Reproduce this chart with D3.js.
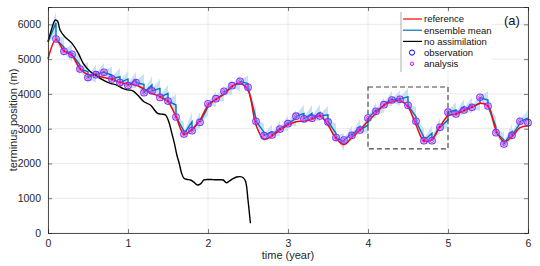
<!DOCTYPE html>
<html>
<head>
<meta charset="utf-8">
<script src="https://cdn.jsdelivr.net/npm/d3@7"></script>
<style>
  body { margin: 0; background: #fff; }
  svg { font-family: "Liberation Sans", Arial, sans-serif; }
</style>
</head>
<body>
<div id="chart"></div>
<script>
// analysis / observation times (year)
const obsTimes = d3.range(1, 61).map(i => i / 10);

const xTicks = [0, 1, 2, 3, 4, 5, 6];
const yTicks = [0, 1000, 2000, 3000, 4000, 5000, 6000];

// reference (true) terminus position, every 0.1 year from t = 0
const refTimes = d3.range(0, 61).map(i => i / 10);
const refVals = [
  5005, 5560, 5240, 5100, 4730, 4550, 4530, 4470, 4420, 4330,
  4285, 4255, 4140, 4015, 3920, 3775, 3345, 2840, 2980, 3250,
  3660, 3845, 3990, 4210, 4310, 4112, 3105, 2690, 2790, 2962,
  3105, 3200, 3220, 3270, 3373, 3105, 2723, 2540, 2752, 2962,
  3220, 3442, 3680, 3775, 3805, 3632, 3105, 2645, 2695, 3057,
  3370, 3422, 3517, 3615, 3730, 3652, 2962, 2625, 2770, 3028,
  3085
];

// observations at t = 0.1 ... 6.0
const obsVals = [
  5580, 5225, 5140, 4717, 4470, 4555, 4620, 4430, 4325, 4240,
  4325, 4035, 4085, 3900, 3795, 3336, 2847, 2942, 3183, 3715,
  3863, 4075, 4237, 4365, 4190, 3212, 2800, 2818, 2990, 3145,
  3360, 3280, 3303, 3365, 3196, 2745, 2675, 2810, 2962, 3305,
  3500, 3690, 3825, 3845, 3672, 3212, 2655, 2655, 3040, 3475,
  3422, 3537, 3615, 3902, 3652, 2885, 2560, 2810, 3212, 3172
];

// ensemble mean after analysis
const analysisVals = [
  5570, 5230, 5135, 4720, 4475, 4555, 4615, 4435, 4325, 4245,
  4320, 4040, 4085, 3905, 3795, 3340, 2850, 2945, 3185, 3710,
  3860, 4070, 4235, 4360, 4190, 3215, 2805, 2820, 2990, 3145,
  3355, 3280, 3300, 3365, 3200, 2745, 2675, 2810, 2965, 3300,
  3500, 3690, 3820, 3845, 3670, 3215, 2660, 2655, 3040, 3470,
  3425, 3535, 3615, 3895, 3650, 2890, 2565, 2810, 3210, 3175
];

// ensemble mean forecast just before each analysis
const ensStart = 5500;
const forecastVals = [
  6050, 5350, 5170, 4830, 4640, 4590, 4640, 4545, 4495, 4430,
  4400, 4277, 4257, 4160, 4017, 3680, 2930, 3200, 3250, 3630,
  3850, 4000, 4180, 4300, 4300, 3300, 2900, 2910, 3020, 3160,
  3300, 3440, 3440, 3460, 3400, 2867, 2620, 2867, 3057, 3105,
  3537, 3680, 3873, 3870, 3920, 3345, 2752, 2867, 3105, 3250,
  3537, 3632, 3680, 3730, 3825, 3057, 2675, 2913, 3155, 3300
];

// ensemble spread (half width) just before each analysis, and after it
const forecastSpread = [
  330, 280, 260, 300, 280, 260, 250, 240, 250, 240,
  240, 300, 250, 280, 250, 300, 250, 280, 230, 250,
  220, 220, 220, 220, 240, 280, 250, 220, 220, 220,
  230, 240, 240, 240, 250, 280, 250, 220, 220, 230,
  220, 220, 220, 220, 250, 280, 250, 230, 220, 230,
  220, 220, 220, 220, 250, 280, 240, 220, 220, 220
];
const analysisSpread = 50;

// model run without assimilation
const noAssimTimes = [
  0, 0.05, 0.09, 0.12, 0.15, 0.21, 0.3, 0.38, 0.44, 0.53,
  0.65, 0.78, 0.86, 0.94, 1.0, 1.06, 1.12, 1.2, 1.28, 1.37,
  1.42, 1.47, 1.51, 1.55, 1.58, 1.61, 1.64, 1.67, 1.7, 1.74,
  1.78, 1.82, 1.87, 1.91, 1.95, 2.0, 2.06, 2.12, 2.19, 2.23,
  2.27, 2.32, 2.36, 2.4, 2.44, 2.47, 2.5, 2.53
];
const noAssimVals = [
  5500, 5900, 6125, 6090, 5840, 5645, 5455, 5165, 4880, 4640,
  4450, 4305, 4255, 4150, 4115, 4090, 3970, 3775, 3680, 3440,
  3420, 3394, 3200, 2850, 2580, 2250, 2005, 1720, 1573, 1540,
  1525, 1470, 1380, 1420, 1525, 1540, 1535, 1530, 1525, 1447,
  1500, 1573, 1610, 1620, 1590, 1480, 950, 280
];

const legendItems = [
  { label: 'reference', type: 'line', color: '#ff0000' },
  { label: 'ensemble mean', type: 'line', color: '#0072bd' },
  { label: 'no assimilation', type: 'line', color: '#000000' },
  { label: 'observation', type: 'obs', color: '#0000ff' },
  { label: 'analysis', type: 'ana', color: '#ff00ff' }
];

const W = 540, H = 266;
const margin = { top: 7, right: 12, bottom: 33, left: 48 };
const width = W - margin.left - margin.right;
const height = H - margin.top - margin.bottom;

const svg = d3.select('#chart')
  .append('svg')
  .attr('width', W)
  .attr('height', H);

const g = svg.append('g')
  .attr('transform', `translate(${margin.left},${margin.top})`);

const x = d3.scaleLinear().domain([0, 6]).range([0, width]);
const y = d3.scaleLinear().domain([0, 6500]).range([height, 0]);

// grid
g.append('g')
  .selectAll('line')
  .data(xTicks)
  .enter()
  .append('line')
  .attr('x1', d => x(d)).attr('x2', d => x(d))
  .attr('y1', 0).attr('y2', height)
  .attr('stroke', '#e3e3e3').attr('stroke-width', 0.8);

g.append('g')
  .selectAll('line')
  .data(yTicks)
  .enter()
  .append('line')
  .attr('x1', 0).attr('x2', width)
  .attr('y1', d => y(d)).attr('y2', d => y(d))
  .attr('stroke', '#e3e3e3').attr('stroke-width', 0.8);

// ensemble mean path: analysis -> forecast -> jump to analysis
let ensPts = [{ t: 0, v: ensStart, s: analysisSpread }];
obsTimes.forEach((t, i) => {
  ensPts.push({ t: t, v: forecastVals[i], s: forecastSpread[i] });
  if (i < obsTimes.length - 1) {
    ensPts.push({ t: t, v: analysisVals[i], s: analysisSpread });
  }
});

const band = d3.area()
  .x(d => x(d.t))
  .y0(d => y(d.v - d.s))
  .y1(d => y(d.v + d.s));

g.append('path')
  .datum(ensPts)
  .attr('d', band)
  .attr('fill', '#c2def2')
  .attr('fill-opacity', 0.9);

const ensLine = d3.line()
  .x(d => x(d.t))
  .y(d => y(d.v));

g.append('path')
  .datum(ensPts)
  .attr('d', ensLine)
  .attr('fill', 'none')
  .attr('stroke', '#0072bd')
  .attr('stroke-width', 1.4);

// reference
const refLine = d3.line()
  .x((d, i) => x(refTimes[i]))
  .y(d => y(d))
  .curve(d3.curveCatmullRom.alpha(0.5));

g.append('path')
  .datum(refVals)
  .attr('d', refLine)
  .attr('fill', 'none')
  .attr('stroke', '#ff0000')
  .attr('stroke-width', 1.5);

// no assimilation
const noLine = d3.line()
  .x((d, i) => x(noAssimTimes[i]))
  .y(d => y(d))
  .curve(d3.curveCatmullRom.alpha(0.5));

g.append('path')
  .datum(noAssimVals)
  .attr('d', noLine)
  .attr('fill', 'none')
  .attr('stroke', '#000')
  .attr('stroke-width', 1.4);

// observations and analysis markers
g.append('g')
  .selectAll('circle')
  .data(obsVals)
  .enter()
  .append('circle')
  .attr('cx', (d, i) => x(obsTimes[i]))
  .attr('cy', d => y(d))
  .attr('r', 3.3)
  .attr('fill', 'none')
  .attr('stroke', '#6a3cff')
  .attr('stroke-width', 1.1);

g.append('g')
  .selectAll('circle')
  .data(analysisVals)
  .enter()
  .append('circle')
  .attr('cx', (d, i) => x(obsTimes[i]))
  .attr('cy', d => y(d))
  .attr('r', 1.9)
  .attr('fill', 'none')
  .attr('stroke', '#ff33ff')
  .attr('stroke-width', 1);

// zoom box
g.append('rect')
  .attr('x', x(4))
  .attr('y', y(4200))
  .attr('width', x(5) - x(4))
  .attr('height', y(2420) - y(4200))
  .attr('fill', 'none')
  .attr('stroke', '#444')
  .attr('stroke-width', 1.1)
  .attr('stroke-dasharray', '5,3');

// axes (box, ticks inward)
const axisColor = '#262626';
g.append('g')
  .attr('transform', `translate(0,${height})`)
  .call(d3.axisBottom(x).tickValues(xTicks).tickSize(-4).tickPadding(7).tickFormat(d3.format('d')))
  .call(a => a.select('.domain').attr('stroke', axisColor));
g.append('g')
  .call(d3.axisTop(x).tickValues(xTicks).tickSize(-4).tickFormat(''))
  .call(a => a.select('.domain').attr('stroke', axisColor));
g.append('g')
  .call(d3.axisLeft(y).tickValues(yTicks).tickSize(-4).tickPadding(7).tickFormat(d3.format('d')))
  .call(a => a.select('.domain').attr('stroke', axisColor));
g.append('g')
  .attr('transform', `translate(${width},0)`)
  .call(d3.axisRight(y).tickValues(yTicks).tickSize(-4).tickFormat(''))
  .call(a => a.select('.domain').attr('stroke', axisColor));

g.selectAll('.tick line').attr('stroke', axisColor).attr('stroke-width', 0.6);
g.selectAll('.domain').attr('stroke-width', 0.8);
g.selectAll('.tick text')
  .attr('fill', '#262626')
  .style('font-size', '10.5px')
  .style('font-family', '"Liberation Sans", Arial, sans-serif');

// axis labels
svg.append('text')
  .attr('x', margin.left + width / 2)
  .attr('y', 259)
  .attr('text-anchor', 'middle')
  .attr('fill', '#262626')
  .style('font-size', '11px')
  .text('time (year)');

svg.append('text')
  .attr('transform', `translate(17,${margin.top + height / 2}) rotate(-90)`)
  .attr('text-anchor', 'middle')
  .attr('fill', '#262626')
  .style('font-size', '11px')
  .text('terminus position (m)');

// legend
const lg = svg.append('g');
lg.append('rect')
  .attr('x', 401).attr('y', 12)
  .attr('width', 91).attr('height', 59)
  .attr('fill', '#fff');
lg.append('line')
  .attr('x1', 401).attr('x2', 401)
  .attr('y1', 12).attr('y2', 72)
  .attr('stroke', '#999').attr('stroke-width', 0.8);

legendItems.forEach((item, i) => {
  const ly = 19 + i * 11.2;
  if (item.type === 'line') {
    lg.append('line')
      .attr('x1', 403).attr('x2', 422)
      .attr('y1', ly).attr('y2', ly)
      .attr('stroke', item.color).attr('stroke-width', 1.2);
  } else {
    lg.append('circle')
      .attr('cx', 412).attr('cy', ly)
      .attr('r', item.type === 'obs' ? 2.6 : 1.7)
      .attr('fill', 'none')
      .attr('stroke', item.color).attr('stroke-width', 1);
  }
  lg.append('text')
    .attr('x', 424).attr('y', ly + 3.3)
    .attr('fill', '#111')
    .style('font-size', '9.5px')
    .text(item.label);
});

svg.append('text')
  .attr('x', 504).attr('y', 25)
  .attr('fill', '#111')
  .style('font-size', '13px')
  .text('(a)');
</script>
</body>
</html>
